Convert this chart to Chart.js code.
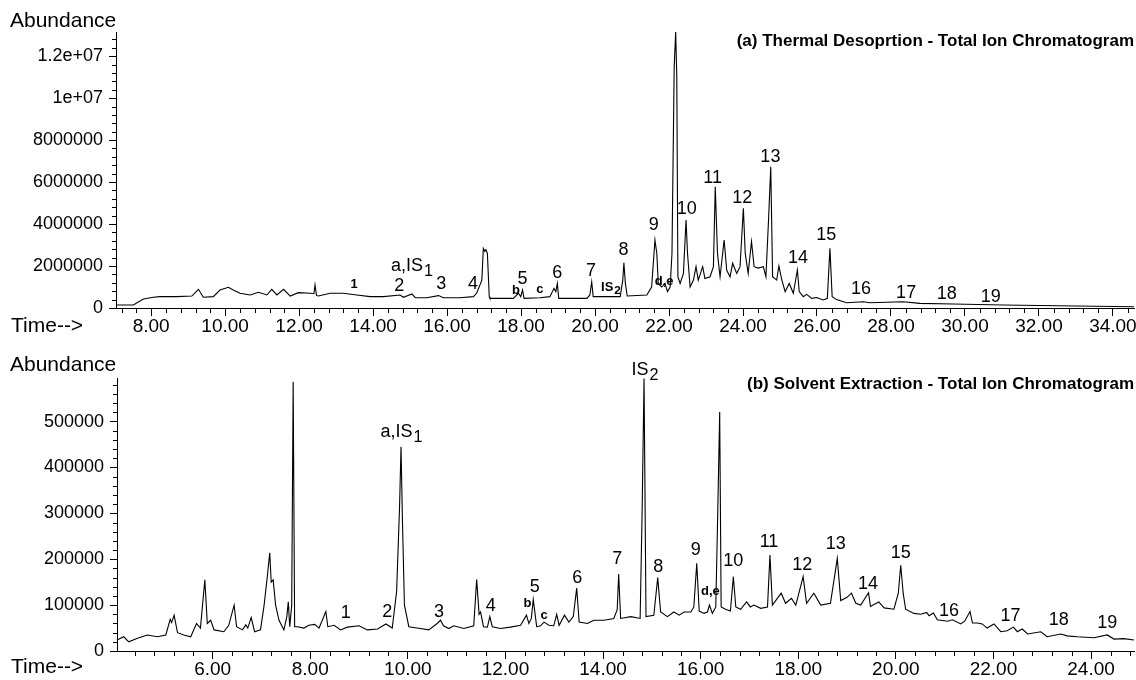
<!DOCTYPE html>
<html>
<head>
<meta charset="utf-8">
<script src="https://cdn.jsdelivr.net/npm/chart.js@4.4.1/dist/chart.umd.min.js"></script>
<style>
    html, body { margin: 0; padding: 0; background: #fff; }
    #wrap { position: relative; width: 1136px; height: 680px; }
    canvas { position: absolute; left: 0; }
    #chartA { top: 0; }
    #chartB { top: 340px; }
</style>
</head>
<body>
<div id="wrap">
    <canvas id="chartA" width="1136" height="340"></canvas>
    <canvas id="chartB" width="1136" height="340"></canvas>
</div>
<script>
/* =========================
   DATA (a) THERMAL DESORPTION
========================= */
const thermalTimes = [
    7.05, 7.52, 7.79, 8.06, 8.24, 8.69, 9.10, 9.28, 9.41, 9.68, 9.86, 10.09, 10.22, 10.40, 10.68,
    10.90, 11.13, 11.26, 11.40, 11.58, 11.76, 11.98, 12.30, 12.40, 12.43, 12.47, 12.52, 12.84, 13.20,
    13.56, 13.92, 14.28, 14.73, 14.82, 15.05, 15.14, 15.45, 15.77, 15.90, 16.35, 16.71, 16.80, 16.94,
    16.98, 17.02, 17.05, 17.09, 17.14, 17.16, 17.79, 17.93, 17.99, 18.04, 18.08, 18.51, 18.78, 18.89,
    18.94, 18.98, 19.02, 19.78, 19.86, 19.91, 19.95, 20.68, 20.75, 20.78, 20.82, 20.87, 21.40, 21.53,
    21.62, 21.67, 21.71, 21.80, 21.89, 21.96, 22.03, 22.08, 22.14, 22.18, 22.21, 22.24, 22.30, 22.39,
    22.46, 22.50, 22.57, 22.66, 22.73, 22.79, 22.91, 22.97, 23.11, 23.20, 23.25, 23.31, 23.38, 23.49,
    23.56, 23.65, 23.72, 23.83, 23.92, 24.01, 24.06, 24.14, 24.23, 24.30, 24.41, 24.55, 24.62, 24.69,
    24.75, 24.80, 24.91, 24.97, 25.05, 25.14, 25.25, 25.36, 25.47, 25.52, 25.63, 25.72, 25.86, 25.99,
    26.17, 26.28, 26.35, 26.41, 26.53, 26.80, 27.25, 27.43, 28.33, 28.78, 29.68, 31.03, 33.00, 34.57
];
const thermalAbundance = [
    143000, 143000, 430000, 510000, 540000, 540000, 570000, 890000, 510000, 540000, 857000, 985000, 857000, 700000, 620000,
    750000, 620000, 890000, 620000, 890000, 570000, 730000, 700000, 680000, 1100000, 600000, 570000, 700000, 700000,
    620000, 540000, 540000, 620000, 510000, 670000, 490000, 490000, 590000, 490000, 490000, 540000, 700000, 1330000,
    2840000, 2700000, 2780000, 2600000, 540000, 460000, 460000, 700000, 540000, 857000, 460000, 490000, 540000, 935000,
    780000, 1170000, 460000, 460000, 620000, 1250000, 540000, 540000, 1330000, 2160000, 1170000, 570000, 620000, 1000000,
    3240000, 2600000, 1170000, 1000000, 1170000, 780000, 1000000, 2600000, 11500000, 13150000, 11000000, 1490000, 1170000, 1650000,
    4190000, 2600000, 1000000, 1330000, 1970000, 1330000, 1970000, 1400000, 1490000, 1970000, 5780000, 2600000, 1490000, 3240000,
    1800000, 1490000, 2130000, 1650000, 1970000, 4750000, 2600000, 1650000, 3170000, 1970000, 1900000, 1970000, 1490000, 4190000,
    6730000, 1490000, 1330000, 2000000, 1330000, 780000, 1170000, 700000, 1810000, 780000, 540000, 650000, 460000, 500000,
    380000, 460000, 2840000, 540000, 400000, 250000, 300000, 250000, 300000, 220000, 190000, 140000, 95000, 63000
];
const thermalXTicks = ["8.00", "10.00", "12.00", "14.00", "16.00", "18.00", "20.00", "22.00", "24.00", "26.00", "28.00", "30.00", "32.00", "34.00"];
const thermalYTicks = ["0", "2000000", "4000000", "6000000", "8000000", "1e+07", "1.2e+07"];

const thermalPeakNames = ["1", "a,IS_1", "2", "3", "4", "b", "5", "c", "6", "7", "IS_2", "8", "9", "d,e", "10", "11", "12", "13", "14", "15", "16", "17", "18", "19"];
const thermalPeakTimes = [13.49, 15.05, 14.71, 15.84, 16.70, 17.86, 18.04, 18.51, 18.98, 19.89, 20.43, 20.77, 21.59, 21.87, 22.48, 23.18, 23.98, 24.74, 25.49, 26.25, 27.19, 28.41, 29.51, 30.70];
const thermalPeakLevels = [1140000, 2000000, 1050000, 1130000, 1130000, 820000, 1370000, 890000, 1680000, 1780000, 1000000, 2760000, 3950000, 1250000, 4700000, 6180000, 5220000, 7200000, 2380000, 3480000, 890000, 730000, 670000, 540000];

/* =========================
   DATA (b) SOLVENT EXTRACTION
========================= */
const solventTimes = [
    4.04, 4.18, 4.28, 4.46, 4.66, 4.87, 5.04, 5.13, 5.16, 5.21, 5.28, 5.41, 5.55, 5.67, 5.75, 5.84, 5.89,
    5.96, 6.03, 6.23, 6.33, 6.44, 6.49, 6.61, 6.68, 6.72, 6.79, 6.86, 6.98, 7.05, 7.12, 7.17, 7.20, 7.24,
    7.29, 7.36, 7.46, 7.52, 7.55, 7.58, 7.62, 7.65, 7.68, 7.74, 7.87, 7.97, 8.09, 8.18, 8.32, 8.36, 8.49,
    8.62, 8.76, 9.00, 9.17, 9.38, 9.55, 9.68, 9.77, 9.83, 9.86, 9.89, 9.93, 10.02, 10.19, 10.43, 10.60,
    10.67, 10.73, 10.84, 10.94, 11.15, 11.35, 11.41, 11.46, 11.49, 11.55, 11.63, 11.68, 11.73, 11.90,
    12.10, 12.31, 12.43, 12.48, 12.53, 12.57, 12.64, 12.72, 12.79, 12.89, 12.99, 13.05, 13.10, 13.21,
    13.30, 13.39, 13.46, 13.51, 13.68, 13.81, 14.02, 14.22, 14.29, 14.32, 14.36, 14.57, 14.76, 14.80,
    14.84, 14.88, 15.04, 15.12, 15.18, 15.32, 15.45, 15.56, 15.66, 15.80, 15.86, 15.92, 15.97, 16.07,
    16.14, 16.18, 16.24, 16.31, 16.35, 16.39, 16.42, 16.51, 16.61, 16.67, 16.72, 16.82, 16.94, 17.02,
    17.09, 17.23, 17.37, 17.42, 17.47, 17.65, 17.74, 17.86, 17.95, 18.10, 18.17, 18.32, 18.46, 18.66,
    18.80, 18.87, 19.00, 19.09, 19.18, 19.28, 19.44, 19.48, 19.65, 19.76, 19.96, 20.05, 20.10, 20.15,
    20.20, 20.37, 20.51, 20.63, 20.68, 20.77, 20.85, 21.06, 21.16, 21.33, 21.41, 21.52, 21.57, 21.67,
    21.77, 21.87, 22.01, 22.15, 22.28, 22.41, 22.49, 22.59, 22.70, 22.97, 23.10, 23.38, 23.51, 23.72,
    24.06, 24.33, 24.47, 24.67, 24.88
];
const solventAbundance = [
    24000, 31000, 20000, 28000, 35000, 31000, 35000, 69000, 62000, 78000, 40000, 35000, 31000, 60000, 50000, 155000, 60000,
    67000, 46000, 42000, 56000, 100000, 53000, 46000, 57000, 50000, 73000, 42000, 46000, 96000, 162000, 214000, 150000, 155000,
    100000, 67000, 46000, 75000, 107000, 53000, 100000, 587000, 53000, 53000, 50000, 56000, 58000, 50000, 86000, 53000, 56000,
    46000, 52000, 55000, 46000, 48000, 59000, 50000, 130000, 314000, 445000, 280000, 100000, 53000, 50000, 46000, 60000,
    67000, 55000, 49000, 55000, 49000, 55000, 156000, 80000, 85000, 53000, 52000, 75000, 53000, 49000,
    52000, 56000, 78000, 60000, 71000, 112000, 53000, 55000, 63000, 56000, 55000, 80000, 56000, 78000,
    63000, 75000, 137000, 63000, 60000, 67000, 67000, 71000, 90000, 168000, 71000, 75000, 71000, 300000,
    594000, 75000, 78000, 160000, 85000, 75000, 85000, 78000, 85000, 85000, 96000, 191000, 87000, 82000,
    85000, 100000, 82000, 96000, 300000, 521000, 96000, 91000, 87000, 162000, 96000, 91000, 107000, 96000,
    100000, 93000, 96000, 209000, 100000, 126000, 104000, 115000, 100000, 162000, 104000, 126000, 100000, 104000,
    202000, 110000, 117000, 126000, 104000, 100000, 127000, 97000, 107000, 94000, 91000, 126000, 187000, 126000,
    91000, 82000, 80000, 84000, 77000, 83000, 68000, 65000, 68000, 59000, 65000, 86000, 61000, 61000,
    59000, 50000, 59000, 42000, 44000, 52000, 42000, 48000, 37000, 42000, 31000, 37000, 33000, 31000,
    29000, 35000, 26000, 27000, 24000
];
const solventXTicks = ["6.00", "8.00", "10.00", "12.00", "14.00", "16.00", "18.00", "20.00", "22.00", "24.00"];
const solventYTicks = ["0", "100000", "200000", "300000", "400000", "500000"];

const solventPeakNames = ["1", "2", "a,IS_1", "3", "4", "b", "5", "c", "6", "7", "IS_2", "8", "9", "d,e", "10", "11", "12", "13", "14", "15", "16", "17", "18", "19"];
const solventPeakTimes = [8.73, 9.58, 9.87, 10.64, 11.70, 12.45, 12.60, 12.79, 13.47, 14.29, 14.86, 15.13, 15.90, 16.20, 16.67, 17.40, 18.08, 18.77, 19.43, 20.10, 21.09, 22.35, 23.34, 24.33];
const solventPeakLevels = [83000, 86000, 478000, 86000, 97000, 104000, 140000, 78000, 158000, 200000, 612000, 184000, 220000, 129000, 195000, 238000, 187000, 233000, 147000, 213000, 88000, 76000, 68000, 62000];

/* =========================
   DRAWING HELPERS
========================= */
const FONT = "'Liberation Sans', Arial, Helvetica, sans-serif";
Chart.defaults.font.family = FONT;
Chart.defaults.color = "#000";

function drawPeakLabel(ctx, name, px, py, small) {
    const size = small ? 13 : 18;
    const weight = small ? "bold " : "";
    const parts = name.split("_");
    const subSize = size * 0.9;

    ctx.font = weight + size + "px " + FONT;
    const wMain = ctx.measureText(parts[0]).width;
    let wSub = 0;
    if (parts[1]) {
        ctx.font = weight + subSize + "px " + FONT;
        wSub = ctx.measureText(parts[1]).width + 1;
    }
    const left = px - (wMain + wSub) / 2;

    ctx.textAlign = "left";
    ctx.textBaseline = "middle";
    ctx.font = weight + size + "px " + FONT;
    ctx.fillText(parts[0], left, py);
    if (parts[1]) {
        ctx.font = weight + subSize + "px " + FONT;
        ctx.fillText(parts[1], left + wMain + 1, py + size * 0.3);
    }
}

const chromPlugin = {
    id: "chrom",
    afterDraw(chart, args, opts) {
        const ctx = chart.ctx;
        const xs = chart.scales.x;
        const ys = chart.scales.y;
        const area = chart.chartArea;

        ctx.save();
        ctx.strokeStyle = "#000";
        ctx.fillStyle = "#000";
        ctx.lineWidth = 1;

        // minor ticks (5 per major)
        ctx.beginPath();
        for (let k = Math.ceil(xs.min / opts.xMinor); k * opts.xMinor <= xs.max; k++) {
            if (k % 5 === 0) continue;
            const px = Math.round(xs.getPixelForValue(k * opts.xMinor)) + 0.5;
            ctx.moveTo(px, area.bottom);
            ctx.lineTo(px, area.bottom + 5);
        }
        for (let k = 1; k * opts.yMinor <= ys.max; k++) {
            if (k % 5 === 0) continue;
            const py = Math.round(ys.getPixelForValue(k * opts.yMinor)) + 0.5;
            ctx.moveTo(area.left - 4, py);
            ctx.lineTo(area.left, py);
        }
        ctx.stroke();

        // peak labels
        opts.names.forEach((name, i) => {
            drawPeakLabel(ctx, name,
                xs.getPixelForValue(opts.times[i]),
                ys.getPixelForValue(opts.levels[i]),
                opts.small.includes(name));
        });

        // axis titles
        ctx.textBaseline = "middle";
        ctx.textAlign = "left";
        ctx.font = "21px " + FONT;
        ctx.fillText("Abundance", 10, opts.abundanceY);
        ctx.fillText("Time-->", 11, opts.timeY);

        // panel title
        ctx.textAlign = "right";
        ctx.font = "bold 17px " + FONT;
        ctx.fillText(opts.title, 1134, opts.titleY);

        ctx.restore();
    }
};

/* =========================
   CHARTS
========================= */
function makeChart(id, s) {
    return new Chart(document.getElementById(id), {
        type: "line",
        data: {
            datasets: [{
                data: s.times.map((t, i) => ({ x: t, y: s.abundance[i] })),
                borderColor: "#000",
                borderWidth: 1.1,
                pointRadius: 0,
                tension: 0,
                fill: false,
                clip: false
            }]
        },
        options: {
            responsive: false,
            animation: false,
            events: [],
            layout: { padding: { top: s.top, right: 2, left: 0, bottom: 0 } },
            plugins: {
                legend: { display: false },
                tooltip: { enabled: false },
                chrom: s.labels
            },
            scales: {
                x: {
                    type: "linear",
                    min: s.xMin,
                    max: s.xMax,
                    afterBuildTicks: sc => { sc.ticks = s.xTicks.map(l => ({ value: Number(l) })); },
                    afterFit: sc => { sc.height = s.xHeight; },
                    grid: { drawOnChartArea: false, drawTicks: true, tickLength: 8, color: "#000" },
                    border: { color: "#000", width: 1 },
                    ticks: {
                        color: "#000",
                        font: { size: 19 },
                        padding: -1,
                        maxRotation: 0,
                        autoSkip: false,
                        callback: (v, i) => s.xTicks[i]
                    }
                },
                y: {
                    min: 0,
                    max: s.yMax,
                    afterBuildTicks: sc => { sc.ticks = s.yTicks.map(l => ({ value: Number(l) })); },
                    afterFit: sc => { sc.width = s.yWidth; },
                    grid: { drawOnChartArea: false, drawTicks: true, tickLength: 7, color: "#000" },
                    border: { color: "#000", width: 1 },
                    ticks: {
                        color: "#000",
                        font: { size: 18 },
                        padding: 6,
                        autoSkip: false,
                        callback: (v, i) => s.yTicks[i]
                    }
                }
            }
        },
        plugins: [chromPlugin]
    });
}

makeChart("chartA", {
    times: thermalTimes,
    abundance: thermalAbundance,
    xTicks: thermalXTicks,
    yTicks: thermalYTicks,
    xMin: 7.05, xMax: 34.57, yMax: 13150000,
    top: 32, xHeight: 32, yWidth: 116,
    labels: {
        names: thermalPeakNames, times: thermalPeakTimes, levels: thermalPeakLevels,
        small: ["1", "b", "c", "IS_2", "d,e"],
        xMinor: 0.4, yMinor: 400000,
        abundanceY: 21, timeY: 326, titleY: 41,
        title: "(a) Thermal Desoprtion - Total Ion Chromatogram"
    }
});

makeChart("chartB", {
    times: solventTimes,
    abundance: solventAbundance,
    xTicks: solventXTicks,
    yTicks: solventYTicks,
    xMin: 4.04, xMax: 24.88, yMax: 595000,
    top: 38, xHeight: 29, yWidth: 117,
    labels: {
        names: solventPeakNames, times: solventPeakTimes, levels: solventPeakLevels,
        small: ["b", "c", "d,e"],
        xMinor: 0.4, yMinor: 20000,
        abundanceY: 25, timeY: 327, titleY: 44,
        title: "(b) Solvent Extraction - Total Ion Chromatogram"
    }
});
</script>
</body>
</html>
